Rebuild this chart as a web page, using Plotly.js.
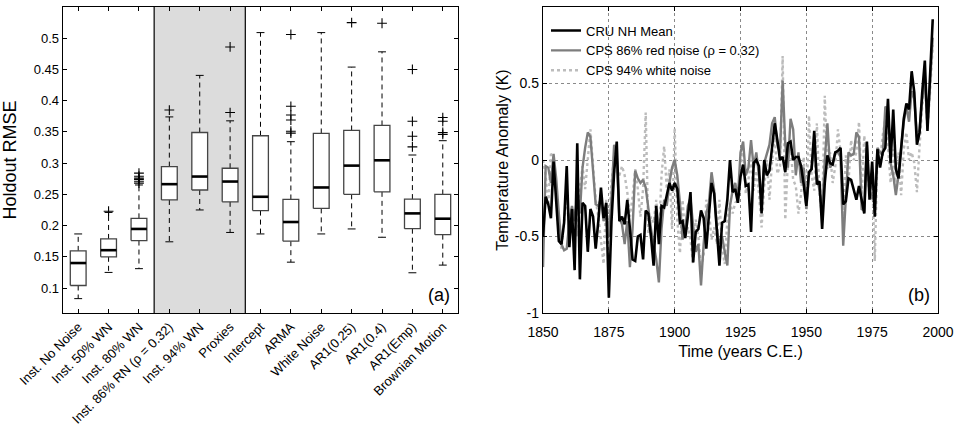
<!DOCTYPE html>
<html><head><meta charset="utf-8">
<script src="https://cdn.plot.ly/plotly-3.0.1.min.js"></script>
<style>body{margin:0;background:#fff}#c{width:959px;height:430px}</style>
</head><body><div id="c"></div><script>
// ---------- Panel (a): holdout RMSE box plots ----------
const boxLabels = ["Inst. No Noise","Inst. 50% WN","Inst. 80% WN","Inst. 86% RN (\u03c1 = 0.32)","Inst. 94% WN","Proxies",
  "Intercept","ARMA","White Noise","AR1(0.25)","AR1(0.4)","AR1(Emp)","Brownian Motion"];
const whiskLo = [0.083,0.125,0.131,0.174,0.225,0.189,0.1866,0.1414,0.1866,0.1946,0.1813,0.1244,0.1367];
const q1      = [0.104,0.150,0.176,0.241,0.257,0.238,0.224,0.175,0.2275,0.250,0.254,0.195,0.1855];
const med     = [0.140,0.1606,0.1946,0.2663,0.2785,0.2705,0.2461,0.2057,0.261,0.296,0.3045,0.2195,0.211];
const q3      = [0.1595,0.1786,0.2116,0.2944,0.349,0.2918,0.3438,0.2418,0.3475,0.3523,0.3603,0.2424,0.2498];
const whiskHi = [0.1866,0.221,0.265,0.374,0.4405,0.3677,0.509,0.3343,0.509,0.4538,0.4782,0.313,0.3359];
const outliers = [[],[0.223],[0.284,0.279,0.276,0.274,0.271,0.268],[0.385],[],[0.486,0.381],
  [],[0.506,0.391,0.377,0.369,0.351,0.348],[],[0.525],[0.524],[0.450,0.367,0.343,0.326],[0.373,0.367,0.349,0.346]];
const shadedFirst = 3, shadedLast = 5; // categories 4..6 (0-based 3..5)

// ---------- Panel (b): temperature series ----------
const years = [1850,1851,1852,1853,1854,1855,1856,1857,1858,1859,1860,1861,1862,1863,1864,1865,1866,1867,1868,1869,
1870,1871,1872,1873,1874,1875,1876,1877,1878,1879,1880,1881,1882,1883,1884,1885,1886,1887,1888,1889,
1890,1891,1892,1893,1894,1895,1896,1897,1898,1899,1900,1901,1902,1903,1904,1905,1906,1907,1908,1909,
1910,1911,1912,1913,1914,1915,1916,1917,1918,1919,1920,1921,1922,1923,1924,1925,1926,1927,1928,1929,
1930,1931,1932,1933,1934,1935,1936,1937,1938,1939,1940,1941,1942,1943,1944,1945,1946,1947,1948,1949,
1950,1951,1952,1953,1954,1955,1956,1957,1958,1959,1960,1961,1962,1963,1964,1965,1966,1967,1968,1969,
1970,1971,1972,1973,1974,1975,1976,1977,1978,1979,1980,1981,1982,1983,1984,1985,1986,1987,1988,1989,
1990,1991,1992,1993,1994,1995,1996,1997,1998];
const cruNH = [-0.50,-0.24,-0.29,-0.38,-0.01,-0.30,-0.53,-0.55,-0.41,-0.04,-0.57,-0.32,-0.72,0.11,-0.78,-0.28,-0.30,-0.60,-0.32,-0.37,
-0.58,-0.40,-0.18,-0.38,-0.28,-0.90,-0.40,-0.08,0.12,-0.40,-0.37,-0.42,-0.26,-0.45,-0.65,-0.66,-0.50,-0.49,-0.65,-0.33,
-0.35,-0.50,-0.69,-0.30,-0.55,-0.30,-0.31,-0.23,-0.15,-0.20,-0.15,-0.19,-0.41,-0.40,-0.51,-0.37,-0.21,-0.67,-0.47,-0.45,
-0.33,-0.38,-0.58,-0.36,-0.15,-0.22,-0.46,-0.69,-0.41,-0.40,-0.26,0.00,-0.21,-0.19,-0.28,-0.11,-0.03,-0.17,-0.16,-0.47,
-0.02,0.00,-0.04,-0.35,0.00,-0.10,-0.07,0.07,0.24,0.13,0.00,0.02,-0.08,0.11,0.12,0.00,0.02,0.02,-0.04,-0.16,
-0.30,-0.08,-0.06,0.19,-0.16,-0.14,-0.45,-0.15,0.03,-0.02,-0.03,0.05,0.06,0.08,-0.29,-0.27,-0.12,-0.13,-0.20,-0.26,
-0.17,-0.26,-0.35,0.12,-0.26,-0.01,-0.37,0.07,-0.05,0.05,0.08,0.40,-0.02,0.33,-0.06,-0.12,0.07,0.27,0.37,0.33,
0.58,0.44,0.10,0.18,0.44,0.65,0.19,0.55,0.92];
const cpsRed = [-0.70,-0.04,-0.05,-0.15,0.04,-0.12,-0.35,-0.55,-0.59,-0.58,-0.40,-0.30,-0.40,-0.22,-0.35,-0.05,0.08,0.18,0.15,-0.10,
-0.29,-0.30,-0.25,-0.40,-0.32,-0.50,-0.25,0.10,0.02,-0.38,-0.42,-0.55,-0.40,-0.70,-0.45,-0.07,-0.12,-0.15,-0.13,-0.18,
-0.32,-0.45,-0.55,-0.65,-0.80,-0.45,-0.26,-0.30,-0.15,-0.05,0.00,-0.10,-0.28,-0.52,-0.45,-0.30,-0.25,-0.45,-0.60,-0.55,
-0.82,-0.55,-0.35,-0.28,-0.08,-0.20,-0.45,-0.55,-0.50,-0.60,-0.69,-0.30,-0.20,-0.15,-0.25,0.05,0.12,-0.10,-0.05,0.13,
-0.05,0.05,-0.10,-0.25,-0.02,0.05,0.10,0.24,0.28,0.10,0.05,0.52,0.10,-0.05,0.27,0.20,-0.10,0.05,-0.15,-0.05,
-0.32,-0.10,-0.05,0.10,-0.10,-0.20,-0.35,0.00,0.24,-0.05,-0.02,0.05,0.05,0.02,-0.56,-0.25,0.05,0.03,0.04,0.18,
0.15,-0.32,-0.33,0.10,-0.20,-0.25,-0.25,0.08,0.05,0.03,0.35,0.32,-0.02,-0.10,-0.23,-0.10,0.10,0.25,0.35,0.25,
0.45,0.40,0.15,0.20,0.40,0.55,0.22,0.50,0.80];
const cpsWhite = [0.00,-0.10,-0.30,0.04,0.02,-0.20,-0.50,-0.58,-0.40,-0.26,-0.37,-0.45,-0.32,-0.50,-0.19,-0.04,-0.19,0.03,0.20,-0.04,
-0.26,-0.37,-0.52,-0.68,-0.26,-0.41,-0.15,0.03,-0.08,-0.10,-0.04,-0.10,-0.21,-0.37,-0.24,-0.06,-0.19,-0.37,-0.19,0.31,
-0.48,-0.37,-0.41,-0.26,-0.50,-0.10,0.09,-0.19,-0.06,-0.45,0.21,-0.39,-0.61,-0.26,-0.50,-0.44,-0.52,-0.68,-0.39,-0.50,
-0.70,-0.63,-0.26,-0.33,-0.52,-0.44,-0.55,-0.26,-0.57,-0.68,-0.39,-0.28,-0.35,-0.28,-0.26,-0.04,0.09,-0.22,-0.13,0.00,
-0.20,-0.07,-0.22,-0.44,-0.17,0.00,-0.26,0.00,0.15,-0.09,-0.04,0.68,-0.39,0.00,0.09,-0.13,-0.17,-0.35,-0.22,0.02,
-0.35,0.29,-0.10,-0.20,0.24,-0.23,-0.37,0.42,-0.06,0.05,-0.15,-0.04,0.20,0.05,-0.37,0.03,-0.15,0.13,0.00,0.05,
0.25,-0.23,0.16,-0.06,-0.23,-0.10,-0.66,0.05,0.00,0.16,0.27,0.09,-0.15,0.07,-0.19,0.05,-0.23,0.07,0.18,0.00,
0.05,-0.02,-0.21,0.09,0.35,0.50,0.20,0.45,0.75];

const FONT = "Liberation Sans, Arial, Helvetica, sans-serif";
const traces = [];
const half = 0.26, capHalf = 0.13;

// shaded background built from category indices
const shapes = [
  {type:'rect', xref:'x', yref:'y domain', x0:shadedFirst-0.5, x1:shadedLast+0.5, y0:0, y1:1,
   fillcolor:'#dcdcdc', line:{width:0}, layer:'below'},
  {type:'line', xref:'x', yref:'y domain', x0:shadedFirst-0.5, x1:shadedFirst-0.5, y0:0, y1:1, line:{color:'#000', width:1.2}},
  {type:'line', xref:'x', yref:'y domain', x0:shadedLast+0.5, x1:shadedLast+0.5, y0:0, y1:1, line:{color:'#000', width:1.2}}
];

// whiskers (dashed)
const wx = [], wy = [];
boxLabels.forEach((_, i) => {
  wx.push(i, i, null, i, i, null);
  wy.push(q3[i], whiskHi[i], null, q1[i], whiskLo[i], null);
});
traces.push({x:wx, y:wy, xaxis:'x', yaxis:'y', mode:'lines', line:{color:'#000', width:1, dash:'5px,4px'},
  showlegend:false, hoverinfo:'skip'});
// caps
const cx = [], cy = [];
boxLabels.forEach((_, i) => {
  cx.push(i-capHalf, i+capHalf, null, i-capHalf, i+capHalf, null);
  cy.push(whiskHi[i], whiskHi[i], null, whiskLo[i], whiskLo[i], null);
});
traces.push({x:cx, y:cy, xaxis:'x', yaxis:'y', mode:'lines', line:{color:'#000', width:1}, showlegend:false, hoverinfo:'skip'});
// boxes
boxLabels.forEach((_, i) => {
  traces.push({x:[i-half, i+half, i+half, i-half, i-half], y:[q1[i], q1[i], q3[i], q3[i], q1[i]],
    xaxis:'x', yaxis:'y', mode:'lines', fill:'toself', fillcolor:'#ffffff',
    line:{color:'#444444', width:1.3}, showlegend:false, hoverinfo:'skip'});
});
// medians
const mx = [], my = [];
boxLabels.forEach((_, i) => { mx.push(i-half, i+half, null); my.push(med[i], med[i], null); });
traces.push({x:mx, y:my, xaxis:'x', yaxis:'y', mode:'lines', line:{color:'#000', width:2.6}, showlegend:false, hoverinfo:'skip'});
// outliers
const ox = [], oy = [];
outliers.forEach((arr, i) => arr.forEach(v => { ox.push(i); oy.push(v); }));
traces.push({x:ox, y:oy, xaxis:'x', yaxis:'y', mode:'markers',
  marker:{symbol:'cross-thin-open', size:7, color:'#000', line:{color:'#000', width:1.1}}, showlegend:false, hoverinfo:'skip'});

// panel (b) traces
traces.push({x:years, y:cpsWhite, xaxis:'x2', yaxis:'y2', mode:'lines', name:'CPS 94% white noise',
  line:{color:'#bcbcbc', width:2.4, dash:'dot'}, legendrank:3});
traces.push({x:years, y:cpsRed, xaxis:'x2', yaxis:'y2', mode:'lines', name:'CPS 86% red noise (\u03c1 = 0.32)',
  line:{color:'#7d7d7d', width:2.4}, legendrank:2});
traces.push({x:years, y:cruNH, xaxis:'x2', yaxis:'y2', mode:'lines', name:'CRU NH Mean',
  line:{color:'#000', width:2.6}, legendrank:1});

const axCommon = {showline:true, linecolor:'#000', linewidth:1.3, mirror:'ticks', ticks:'inside', ticklen:4,
  tickcolor:'#000', zeroline:false, tickfont:{family:FONT, size:13, color:'#000'}};

const layout = {
  width:959, height:430, margin:{l:63, r:21, t:7, b:117},
  paper_bgcolor:'#fff', plot_bgcolor:'#fff',
  font:{family:FONT, color:'#000'},
  showlegend:true,
  legend:{x:0.552, y:0.972, xanchor:'left', yanchor:'top', bgcolor:'rgba(0,0,0,0)', borderwidth:0,
    font:{family:FONT, size:13, color:'#000'}, tracegroupgap:0, itemwidth:30},
  xaxis: Object.assign({}, axCommon, {domain:[0, 0.4514], range:[-0.5, 12.5], tickmode:'array',
    tickvals:boxLabels.map((_, i) => i), ticktext:boxLabels, tickangle:-45, showgrid:false}),
  yaxis: Object.assign({}, axCommon, {domain:[0, 1], range:[0.06, 0.55], tick0:0.1, dtick:0.05, showgrid:false,
    title:{text:'Holdout RMSE', font:{family:FONT, size:18}, standoff:12}}),
  xaxis2: Object.assign({}, axCommon, {domain:[0.5486, 1], anchor:'y2', range:[1850, 2000], tick0:1850, dtick:25,
    showgrid:true, gridcolor:'#8a8a8a', griddash:'dot', gridwidth:1, tickfont:{family:FONT, size:14, color:'#000'},
    ticklabelstandoff:6,
    title:{text:'Time (years C.E.)', font:{family:FONT, size:16}, standoff:6}}),
  yaxis2: Object.assign({}, axCommon, {domain:[0, 1], anchor:'x2', range:[-1, 1], tickmode:'array',
    tickvals:[-1,-0.5,0,0.5,1], ticktext:['-1','-0.5','0','0.5','1'],
    showgrid:true, gridcolor:'#8a8a8a', griddash:'dot', gridwidth:1, tickfont:{family:FONT, size:14, color:'#000'},
    title:{text:'Temperature Anomaly (K)', font:{family:FONT, size:16}, standoff:2}}),
  shapes: shapes,
  annotations:[
    {xref:'x domain', yref:'y domain', x:0.985, y:0.02, xanchor:'right', yanchor:'bottom', text:'(a)',
     showarrow:false, font:{family:FONT, size:18}},
    {xref:'x2 domain', yref:'y2 domain', x:0.985, y:0.02, xanchor:'right', yanchor:'bottom', text:'(b)',
     showarrow:false, font:{family:FONT, size:18}}
  ]
};
Plotly.newPlot('c', traces, layout, {displayModeBar:false, staticPlot:true});
</script></body></html>
